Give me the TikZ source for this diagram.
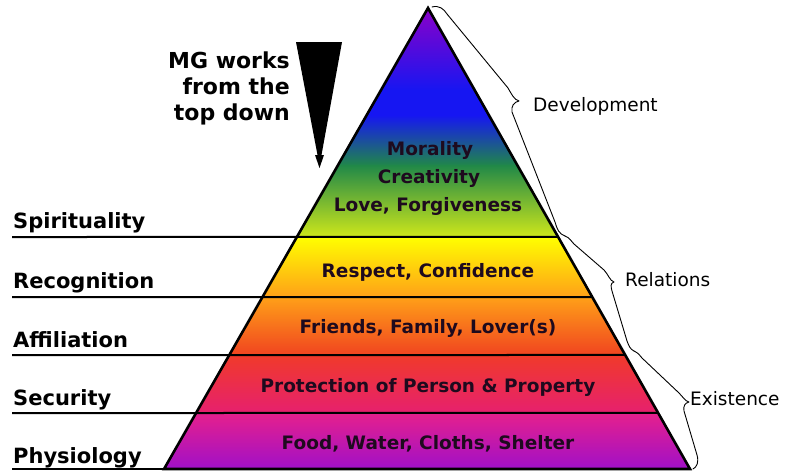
\documentclass[tikz,border=0pt]{standalone}
\usepackage{fontspec}
\setmainfont{DejaVu Sans}
\usetikzlibrary{calc}
\definecolor{cPurple}{HTML}{8C00C8}
\definecolor{cBlue}{HTML}{1616F2}
\definecolor{cTeal}{HTML}{208848}
\definecolor{cYG}{HTML}{D0E81A}
\definecolor{cYellow}{HTML}{FFFF00}
\definecolor{cOrange}{HTML}{FFA018}
\definecolor{cOrRed}{HTML}{F04420}
\definecolor{cRed}{HTML}{F03A2A}
\definecolor{cPink}{HTML}{E6206E}
\definecolor{cMagenta}{HTML}{E6208C}
\definecolor{cViolet}{HTML}{A010C8}
\definecolor{cText}{HTML}{1E0A1E}
\begin{document}
\begin{tikzpicture}[x=1pt,y=-1pt,
  leftlabel/.style={anchor=base west,inner sep=0pt,font=\fontsize{21}{25}\selectfont\bfseries},
  innertext/.style={anchor=base,inner sep=0pt,text=cText,font=\fontsize{18.5}{22}\selectfont\bfseries},
  mgtext/.style={anchor=base east,inner sep=0pt,font=\fontsize{22}{26}\selectfont\bfseries},
  rightlabel/.style={anchor=base west,inner sep=0pt,font=\fontsize{18.5}{22}\selectfont},
  bandline/.style={line width=2pt},
  bracestyle/.style={line width=0.9pt,line join=round,line cap=round}]
\useasboundingbox (0,0) rectangle (798,471);
% pyramid geometry
\coordinate (apex) at (428,8);
\coordinate (bl) at (164,469);
\coordinate (br) at (690,469);
\foreach \t/\n in {0.4967/1,0.6269/2,0.7527/3,0.8785/4}{
  \coordinate (L\n) at ($(apex)!\t!(bl)$);
  \coordinate (R\n) at ($(apex)!\t!(br)$);
}
% top band (multi-stop gradient via clipped rectangles)
\begin{scope}
  \clip (apex) -- (R1) -- (L1) -- cycle;
  \shade[top color=cPurple,bottom color=cBlue] (150,7) rectangle (700,91);
  \fill[cBlue] (150,90) rectangle (700,116);
  \shade[top color=cBlue,bottom color=cTeal] (150,115) rectangle (700,166);
  \shade[top color=cTeal,bottom color=cYG] (150,165) rectangle (700,238);
\end{scope}
\shade[top color=cYellow,bottom color=cOrange] (L1) -- (R1) -- (R2) -- (L2) -- cycle;
\shade[top color=cOrange,bottom color=cOrRed] (L2) -- (R2) -- (R3) -- (L3) -- cycle;
\shade[top color=cRed,bottom color=cPink] (L3) -- (R3) -- (R4) -- (L4) -- cycle;
\shade[top color=cMagenta,bottom color=cViolet] (L4) -- (R4) -- (br) -- (bl) -- cycle;
% left label lines and band lines
\coordinate (s1) at (12,237);
\coordinate (s2) at (12,297);
\coordinate (s3) at (12,355);
\coordinate (s4) at (12,413);
\coordinate (s5) at (12,469);
\draw[bandline] (s1) -- (R1);
\draw[bandline] (s2) -- (R2);
\draw[bandline] (s3) -- (R3);
\draw[bandline] (s4) -- (R4);
\draw[bandline] (s5) -- (bl);
\draw[line width=2.6pt,line join=miter] (apex) -- (br) -- (bl) -- cycle;
% left labels
\node[leftlabel] (spir) at (13,228) {Spirituality};
\node[leftlabel] (reco) at (13,288) {Recognition};
\node[leftlabel] (affi) at (13,347) {Affiliation};
\node[leftlabel] (secu) at (13,405) {Security};
\node[leftlabel] (phys) at (13,463) {Physiology};
% inner texts
\node[innertext] (mor) at (430,155) {Morality};
\node[innertext] (cre) at (429,183) {Creativity};
\node[innertext] (lov) at (428,211) {Love, Forgiveness};
\node[innertext] (res) at (428,277) {Respect, Confidence};
\node[innertext] (fri) at (428,333) {Friends, Family, Lover(s)};
\node[innertext] (pro) at (428,392) {Protection of Person \& Property};
\node[innertext] (foo) at (428,449) {Food, Water, Cloths, Shelter};
% MG text and arrow
\node[mgtext] (mg1) at (290,68) {MG works};
\node[mgtext] (mg2) at (290,94) {from the};
\node[mgtext] (mg3) at (290,120) {top down};
\fill (296,42) -- (342,42) -- (321.5,155) -- (324,155) -- (319.5,168) -- (315,155) -- (317.5,155) -- cycle;
% braces
\draw[bracestyle] (432,7) .. controls (439,5) and (444,9) .. (447,14)
  -- (508,88) .. controls (511,93) and (514,100) .. (519,101)
  .. controls (514,102) and (511,106) .. (512,112)
  -- (555,222) .. controls (557,229) and (559,234) .. (565,236);
\draw[bracestyle] (565,236) .. controls (570,238) and (571,241) .. (574,244)
  -- (604,270) .. controls (608,274) and (610,281) .. (614,282)
  .. controls (610,283) and (611,287) .. (612,291)
  -- (627,341) .. controls (629,346) and (630,349) .. (634,351);
\draw[bracestyle] (634,351) .. controls (638,353) and (640,355) .. (642,358)
  -- (679,393) .. controls (683,397) and (685,401) .. (689,402)
  .. controls (685,403) and (683,406) .. (684,411)
  -- (697,455) .. controls (699,462) and (697,467) .. (693,469);
\node[rightlabel] (dev) at (533,111) {Development};
\node[rightlabel] (rel) at (625,286) {Relations};
\node[rightlabel] (exi) at (690,405) {Existence};
\end{tikzpicture}
\end{document}
